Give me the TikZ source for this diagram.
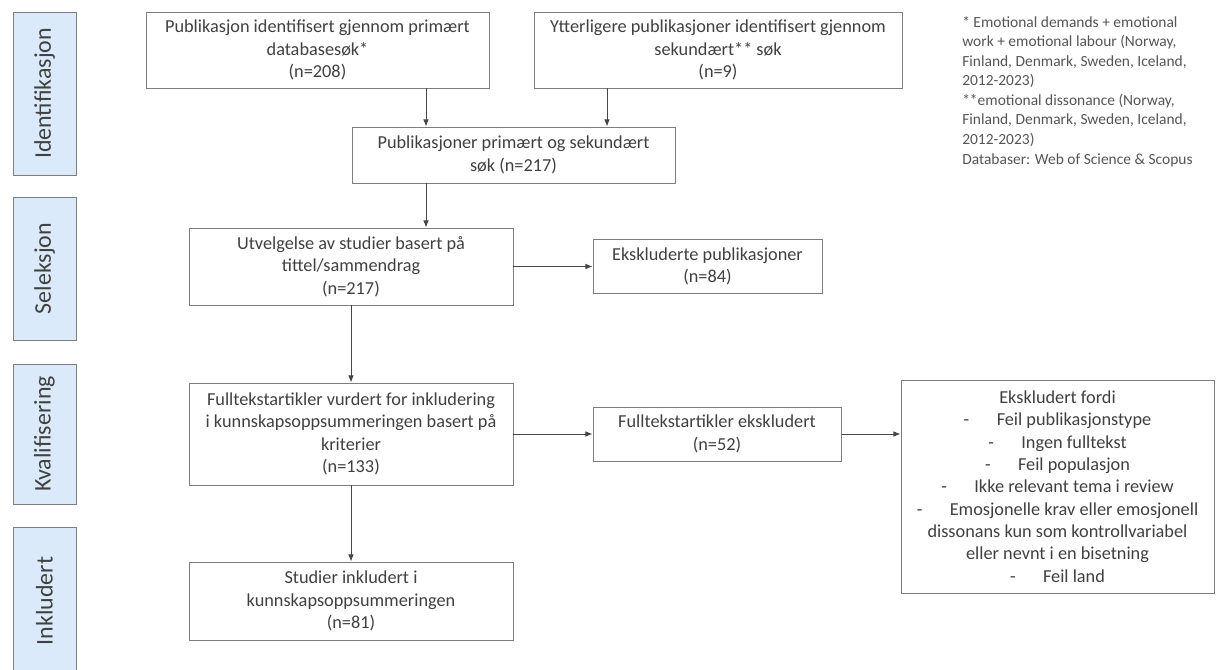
\documentclass[tikz,border=0pt]{standalone}
\usepackage{fontspec}
\setmainfont{Carlito}
\usetikzlibrary{arrows.meta}
\definecolor{txt}{RGB}{64,64,64}
\definecolor{notetxt}{RGB}{85,85,85}
\definecolor{edge}{RGB}{125,125,125}
\definecolor{arrowc}{RGB}{70,70,70}
\definecolor{phasefill}{RGB}{218,234,250}

\begin{document}
\begin{tikzpicture}[x=0.025cm,y=-0.025cm,
    box/.style 2 args={draw=edge, line width=0.7pt, text=txt, align=center,
      font=\fontsize{13}{15.9}\selectfont, inner sep=2pt,
      minimum width=#1*0.025cm, minimum height=#2*0.025cm},
    phase/.style 2 args={draw=edge, line width=0.7pt, fill=phasefill, text=txt, rotate=90,
      font=\fontsize{17}{20}\selectfont,
      minimum width=#1*0.025cm, minimum height=#2*0.025cm},
    arr/.style={draw=arrowc, line width=0.6pt, -{Latex[length=5pt,width=4pt]}}]
    \useasboundingbox (0,0) rectangle (1217,670);

    \node[phase={163}{63}] (pident) at (44.5,93.5) {Identifikasjon};
    \node[phase={143}{63}] (psel) at (44.5,268.5) {Seleksjon};
    \node[phase={140}{63}] (pkval) at (44.5,434) {Kvalifisering};
    \node[phase={148}{63}] (pincl) at (44.5,601) {Inkludert};

    \node[box={343}{76}] (primary) at (317.5,50) {Publikasjon identifisert gjennom primært\\databasesøk*\\(n=208)};
    \node[box={368}{76}] (secondary) at (718,50) {Ytterligere publikasjoner identifisert gjennom\\sekundært** søk\\(n=9)};
    \node[box={323}{56}] (merged) at (513.5,155) {Publikasjoner primært og sekundært\\søk (n=217)};
    \node[box={324}{77}] (screen) at (351,266.5) {Utvelgelse av studier basert på\\tittel/sammendrag\\(n=217)};
    \node[box={229}{54}] (excl) at (707.5,266.5) {Ekskluderte publikasjoner\\(n=84)};
    \node[box={324}{102}] (fulltext) at (351,434) {Fulltekstartikler vurdert for inkludering\\i kunnskapsoppsummeringen basert på\\kriterier\\(n=133)};
    \node[box={248}{54}] (ftexcl) at (717,434) {Fulltekstartikler ekskludert\\(n=52)};
    \node[box={313}{213}] (reasons) at (1057.5,486.5) {Ekskludert fordi\\
      -\hspace{1.5em}Feil publikasjonstype\\
      -\hspace{1.5em}Ingen fulltekst\\
      -\hspace{1.5em}Feil populasjon\\
      -\hspace{1.5em}Ikke relevant tema i review\\
      -\hspace{1.5em}Emosjonelle krav eller emosjonell\\
      dissonans kun som kontrollvariabel\\
      eller nevnt i en bisetning\\
      -\hspace{1.5em}Feil land};
    \node[box={324}{78}] (included) at (351,601) {Studier inkludert i\\kunnskapsoppsummeringen\\(n=81)};

    \node[anchor=north west, align=left, inner sep=0pt, text=notetxt,
      font=\fontsize{11}{13.9}\selectfont] (notes) at (962,16)
      {* Emotional demands + emotional\\work + emotional labour (Norway,\\Finland, Denmark, Sweden, Iceland,\\2012-2023)\\**emotional dissonance (Norway,\\Finland, Denmark, Sweden, Iceland,\\2012-2023)\\Databaser: Web of Science \& Scopus};

    \coordinate (colA) at (426,0);
    \coordinate (colB) at (607,0);
    \draw[arr] (primary.south -| colA) -- (merged.north -| colA);
    \draw[arr] (secondary.south -| colB) -- (merged.north -| colB);
    \draw[arr] (merged.south -| colA) -- (screen.north -| colA);
    \draw[arr] (screen.east) -- (excl.west);
    \draw[arr] (screen.south) -- (fulltext.north);
    \draw[arr] (fulltext.east) -- (ftexcl.west);
    \draw[arr] (ftexcl.east) -- (ftexcl.east -| reasons.west);
    \draw[arr] (fulltext.south) -- (included.north);
\end{tikzpicture}
\end{document}
